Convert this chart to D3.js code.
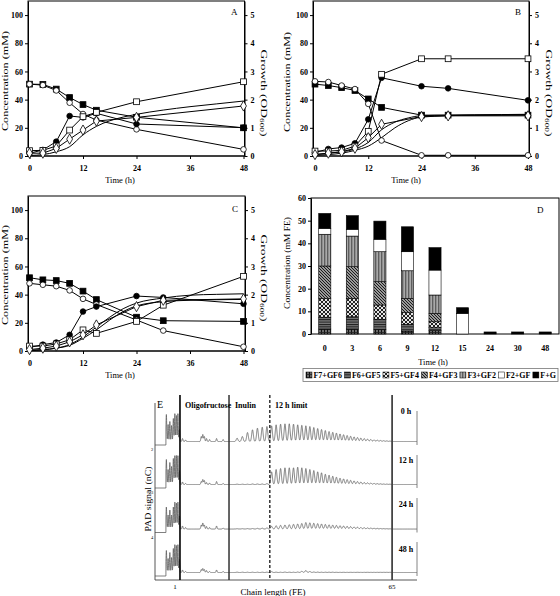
<!DOCTYPE html>
<html><head><meta charset="utf-8">
<script src="https://cdn.jsdelivr.net/npm/d3@7/dist/d3.min.js"></script>
<style>
html,body{margin:0;padding:0;background:#fff;}
svg{display:block;}
text{font-family:"Liberation Serif","Times New Roman",serif;fill:#000;}
</style></head><body>
<svg id="chart" width="560" height="596" viewBox="0 0 560 596"></svg>
<script>
// ================= DATA =================
const timesA = [0,3,6,9,12,15,24,48];
const timesBC = [0,3,6,9,12,15,24,30,48];
const growthTimes = [0,3,6,9,12,15,18,21,24,30,36,42,48];
const leftTicks = [0,20,40,60,80,100];
const rightTicks = [0,1,2,3,4,5];
const timeTicks = [0,12,24,36,48];

// Panel A (mM) and growth (OD600)
const aFilledSquares = [51,50.8,47.5,41.5,36.5,32.5,27.5,20];
const aOpenCircles   = [51,50.3,46.5,37.8,29.8,25.5,18.9,4.7];
const aFilledCircles = [1.9,4.3,10.2,28.4,27.4,30.3,22.7,20.1];
const aOpenSquares   = [3.8,4,7.1,18.4,27.9,31,38.5,52.7];
const aOpenDiamonds  = [2,2,5.4,12,18.4,24.8,27.4,35.5];
const aGrowth        = [0.02,0.05,0.15,0.33,0.75,1.05,1.25,1.38,1.48,1.63,1.75,1.85,1.95];

// Panel B
const bFilledSquares = [51,50,48.5,46.5,40.5,34.5,29,29,29];
const bOpenCircles   = [53,52.5,50,47.5,37,11,0.5,0.5,0.5];
const bFilledCircles = [2.5,5,6,9,26,55.5,49.5,48,39.5];
const bOpenSquares   = [3.5,3.5,4,7,17.5,58,69,69,69];
const bOpenDiamonds  = [1,2,3,5.5,13,22.5,28,28.5,28.5];
const bGrowth1 = [0.05,0.1,0.15,0.25,0.48,0.93,1.2,1.35,1.43,1.45,1.46,1.47,1.48];
const bGrowth2 = [0.025,0.05,0.1,0.2,0.35,0.65,1.0,1.25,1.38,1.43,1.45,1.46,1.47];

// Panel C
const cFilledSquares = [52,50.5,50,48,42.5,36.5,24,21.5,21];
const cOpenCircles   = [48,47,46,43,37,33,22,14.5,3];
const cFilledCircles = [2.5,4.5,6,11.5,28,31.5,39,38,33.5];
const cOpenSquares   = [3.5,3.5,5,8,15,12.5,21,32.5,53];
const cOpenDiamonds  = [1,2,3.5,6.5,11.5,18.5,31.5,36,37];
const cGrowth1 = [0.025,0.05,0.1,0.23,0.5,0.85,1.2,1.5,1.7,1.88,1.98,2.01,2.03];
const cGrowth2 = [0.015,0.04,0.1,0.2,0.45,0.75,1.1,1.4,1.6,1.75,1.8,1.82,1.83];

// Panel D (mM FE), stacked
const dCats = ["0","3","6","9","12","15","24","30","48"];
const dKeys = ["F7+GF6","F6+GF5","F5+GF4","F4+GF3","F3+GF2","F2+GF","F+G"];
const dF7GF6 = [2.2,2.2,2.1,1.3,1.5,0,0,0,0];
const dF6GF5 = [5.2,5.4,4.4,3.0,1.3,0,0,0,0];
const dF5GF4 = [8.3,8.1,6.3,5.1,2.6,0,0,0,0];
const dF4GF3 = [14.3,14.0,10.3,6.3,3.7,0,0,0,0];
const dF3GF2 = [14.0,13.5,13.2,12.2,8.1,0,0,0,0];
const dF2GF  = [2.6,3.0,5.5,8.4,11.0,9.1,0,0,0];
const dFG    = [6.6,6.0,8.0,11.0,9.9,2.5,0.9,0.9,0.9];
const dTicks = [0,10,20,30,40,50,60];

// Panel E (HPAEC-PAD chromatograms): retention positions (min) and peak heights (nC, arbitrary)
const eLabels = ["0 h","12 h","24 h","48 h"];
const eEarlyRT = [2.6,3.0,3.4,3.8,4.2,4.55,4.9,5.25,5.6];
const eEarly0  = [27,17,20,16,23,28,26,28,12];
const eEarly12 = [25,15,22,18,26,29,29,29,14];
const eEarly24 = [22,14,19,14,22,27,26,27,13];
const eEarly48 = [22,14,20,15,24,28,27,28,13];
const eOligoRT = [6.3,7.0,10.6,10.95,11.3,11.8,12.5,14.1,15.6];
const eOligo0  = [3,1.5,5,7,5,3,2,3,2];
const eOligo12 = [2.5,1,3,5,4,2,1.5,3,1];
const eOligo24 = [3,1.5,4,6,4,2.5,1.5,3,1];
const eOligo48 = [2.5,1,3,4,3,2,1,2.5,1];
const eInulinDP = d3.range(20,60);
const eInulin0  = [3.3,5,9,11.7,13.3,14.3,15,15.7,16.7,17.3,17.7,17.7,17.3,16.7,16.2,15.7,15,14,13,12,11,10,9.2,8.4,7.6,6.8,6,5.3,4.6,4,3.4,2.9,2.4,2,1.6,1.3,1,0.8,0.6,0.4];
const eInulin12 = [0.3,0.3,0.3,0.5,0.5,0.5,0.8,12.7,15,16,16.7,16.7,16.7,17.3,16.7,16,15,14,12.7,11.7,10.3,9.3,8.3,7.3,6.3,5.6,4.9,4.2,3.6,3,2.5,2,1.7,1.4,1.1,0.9,0.7,0.5,0.4,0.3];
const eInulin24 = [0.3,0.3,0.4,0.5,0.6,0.8,1.0,2.7,3.3,3.7,4,4.3,4.7,5,5.5,6.5,6.2,5.8,5.4,5,4.6,4.2,3.9,3.6,3.3,3,2.7,2.4,2.1,1.8,1.5,1.3,1.1,0.9,0.7,0.6,0.5,0.4,0.3,0.2];
const eInulin48 = [0.3,0.3,0.3,0.3,0.3,0.3,0.3,0.8,0.3,0.3,0.4,0.3,0.3,0.5,1.2,2,1,0.5,0.4,0.3,0.3,0.3,0.3,0.2,0.2,0.2,0.2,0.2,0.2,0.2,0.2,0.2,0.2,0.2,0.2,0.2,0.2,0.2,0.2,0.2];
const eLinesRT = [5.72,16.95,26.3,54.3];
const eChainTicks = [{label:"1", rt:4.6},{label:"65", rt:54.3}];

// ================= DRAWING =================
const svg = d3.select("#chart");
const defs = svg.append("defs");

function scaledText(parent, x, y, angle, target, build, size) {
  const g = parent.append("g").attr("transform", `translate(${x},${y}) rotate(${angle})`);
  const t = g.append("text").attr("text-anchor","middle").attr("dominant-baseline","central")
    .style("font-size", size + "px");
  build(t);
  const len = t.node().getComputedTextLength();
  t.attr("transform", `scale(${target/len},1)`);
  return t;
}

function styleAxis(sel, bold) {
  sel.select(".domain").attr("stroke","#000").attr("stroke-width",1);
  sel.selectAll(".tick line").attr("stroke","#000").attr("stroke-width",1);
  sel.selectAll(".tick text").attr("fill","#000")
    .style("font-family",'"Liberation Serif","Times New Roman",serif')
    .style("font-size","8px").style("font-weight", bold ? "bold" : "normal");
}

function marker(g, type, cx, cy) {
  if (type === "fsq" || type === "osq") {
    g.append("rect").attr("x",cx-2.9).attr("y",cy-2.9).attr("width",5.8).attr("height",5.8)
      .attr("fill", type==="fsq" ? "#000" : "#fff").attr("stroke","#000").attr("stroke-width",0.8);
  } else if (type === "fci" || type === "oci") {
    g.append("circle").attr("cx",cx).attr("cy",cy).attr("r",2.8)
      .attr("fill", type==="fci" ? "#000" : "#fff").attr("stroke","#000").attr("stroke-width",0.8);
  } else if (type === "odi") {
    g.append("path").attr("d", d3.symbol().type(d3.symbolDiamond).size(30)())
      .attr("transform",`translate(${cx},${cy})`)
      .attr("fill","#fff").attr("stroke","#000").attr("stroke-width",0.8);
  }
}

function drawLinePanel(p) {
  const g = svg.append("g");
  const x = d3.scaleLinear().domain([0,48]).range([p.x0, p.x1]);
  const y = d3.scaleLinear().domain([0,110]).range([p.bottom, p.top]);
  const y2 = d3.scaleLinear().domain([0,5.5]).range([p.bottom, p.top]);

  g.append("rect").attr("x",p.boxL).attr("y",p.top).attr("width",p.boxR-p.boxL)
    .attr("height",p.bottom-p.top).attr("fill","none").attr("stroke","#000").attr("stroke-width",1);

  const yl = g.append("g").attr("transform",`translate(${p.boxL},0)`)
    .call(d3.axisLeft(y).tickValues(leftTicks).tickFormat(d3.format("d")).tickSize(3).tickPadding(2).tickSizeOuter(0));
  styleAxis(yl, true);
  const yr = g.append("g").attr("transform",`translate(${p.boxR},0)`)
    .call(d3.axisRight(y2).tickValues(rightTicks).tickFormat(d3.format("d")).tickSize(3).tickPadding(3).tickSizeOuter(0));
  styleAxis(yr, true);
  const xb = g.append("g").attr("transform",`translate(0,${p.bottom})`)
    .call(d3.axisBottom(x).tickValues(timeTicks).tickFormat(d3.format("d")).tickSize(3).tickPadding(6).tickSizeOuter(0));
  xb.select(".domain").attr("d", `M${p.boxL},0H${p.boxR}`);
  styleAxis(xb, true);

  // growth curves (right axis)
  const gl = d3.line().x((d,i)=>x(growthTimes[i])).y(d=>y2(d)).curve(d3.curveMonotoneX);
  p.growth.forEach(arr => {
    g.append("path").attr("d", gl(arr)).attr("fill","none").attr("stroke","#000").attr("stroke-width",1);
  });
  // series lines
  p.series.forEach(s => {
    const l = d3.line().x((d,i)=>x(p.times[i])).y(d=>y(d));
    g.append("path").attr("d", l(s.v)).attr("fill","none").attr("stroke","#000").attr("stroke-width",1);
  });
  p.series.forEach(s => {
    s.v.forEach((v,i) => marker(g, s.m, x(p.times[i]), y(v)));
  });

  g.append("text").attr("x",p.letter[0]).attr("y",p.letter[1]).style("font-size","9px").text(p.letterText);
  g.append("text").attr("x",p.timeX).attr("y",p.timeY).attr("text-anchor","middle")
    .style("font-size","8.5px").text("Time (h)");

  scaledText(g, p.ltX, p.ltY, -90, 100, t => t.text("Concentration (mM)"), 8);
  scaledText(g, p.rtX, p.rtY, 90, 87, t => {
    t.append("tspan").text("Growth (OD");
    t.append("tspan").attr("dy",2).style("font-size","5.5px").text("600");
    t.append("tspan").attr("dy",-2).text(")");
  }, 8);
}

drawLinePanel({
  x0:29.5, x1:243.5, boxL:28, boxR:244.5, top:1, bottom:156, times:timesA,
  series:[{v:aFilledSquares,m:"fsq"},{v:aOpenCircles,m:"oci"},{v:aFilledCircles,m:"fci"},
          {v:aOpenSquares,m:"osq"},{v:aOpenDiamonds,m:"odi"}],
  growth:[aGrowth], letter:[231,15], letterText:"A", timeX:120, timeY:183,
  ltX:5, ltY:81, rtX:264, rtY:93
});
drawLinePanel({
  x0:315, x1:528, boxL:313, boxR:529, top:1, bottom:156, times:timesBC,
  series:[{v:bFilledSquares,m:"fsq"},{v:bOpenCircles,m:"oci"},{v:bFilledCircles,m:"fci"},
          {v:bOpenSquares,m:"osq"},{v:bOpenDiamonds,m:"odi"}],
  growth:[bGrowth1,bGrowth2], letter:[515,15], letterText:"B", timeX:406, timeY:183,
  ltX:287.5, ltY:82, rtX:549, rtY:93
});
drawLinePanel({
  x0:29.5, x1:243.5, boxL:28, boxR:245, top:196, bottom:351, times:timesBC,
  series:[{v:cFilledSquares,m:"fsq"},{v:cOpenCircles,m:"oci"},{v:cFilledCircles,m:"fci"},
          {v:cOpenSquares,m:"osq"},{v:cOpenDiamonds,m:"odi"}],
  growth:[cGrowth1,cGrowth2], letter:[232,212], letterText:"C", timeX:120, timeY:378,
  ltX:5, ltY:275, rtX:264, rtY:278
});

// ---------- Panel D ----------
function pat(id, w, h, draw) {
  const p = defs.append("pattern").attr("id",id).attr("patternUnits","userSpaceOnUse")
    .attr("width",w).attr("height",h);
  draw(p);
}
pat("pF7",3,3,p=>{
  p.append("rect").attr("width",3).attr("height",3).attr("fill","#6a6a6a");
  p.append("rect").attr("width",1).attr("height",3).attr("fill","#111");
  p.append("rect").attr("y",2).attr("width",3).attr("height",0.8).attr("fill","#222");
});
pat("pF6",3,2.4,p=>{
  p.append("rect").attr("width",3).attr("height",2.4).attr("fill","#7a7a7a");
  p.append("rect").attr("width",3).attr("height",1).attr("fill","#1a1a1a");
});
pat("pF5",4,4,p=>{
  p.append("rect").attr("width",4).attr("height",4).attr("fill","#e6e6e6");
  p.append("path").attr("d","M0,0L4,4M4,0L0,4M-1,1L1,-1M3,5L5,3M-1,3L1,5M3,-1L5,1")
    .attr("stroke","#222").attr("stroke-width",1);
});
pat("pF4",3,3,p=>{
  p.append("rect").attr("width",3).attr("height",3).attr("fill","#cfcfcf");
  p.append("path").attr("d","M0,0L3,3M-1,2L1,4M2,-1L4,1").attr("stroke","#111").attr("stroke-width",1.1);
});
pat("pF3",3,3,p=>{
  p.append("rect").attr("width",3).attr("height",3).attr("fill","#8e8e8e");
  p.append("rect").attr("width",1).attr("height",3).attr("fill","#5e5e5e");
  p.append("rect").attr("x",2).attr("width",0.7).attr("height",3).attr("fill","#b5b5b5");
});
const dFills = {"F7+GF6":"url(#pF7)","F6+GF5":"url(#pF6)","F5+GF4":"url(#pF5)","F4+GF3":"url(#pF4)",
                "F3+GF2":"url(#pF3)","F2+GF":"#fff","F+G":"#000"};

(function drawD(){
  const g = svg.append("g");
  const L=311, R=559, T=198, B=334;
  const x = d3.scaleBand().domain(dCats).range([L,R]).paddingInner(0.56).paddingOuter(0.28);
  const y = d3.scaleLinear().domain([0,60]).range([B,T]);
  const cols = [dF7GF6,dF6GF5,dF5GF4,dF4GF3,dF3GF2,dF2GF,dFG];
  const table = dCats.map((c,i)=>{ const o={cat:c}; dKeys.forEach((k,j)=>o[k]=cols[j][i]); return o; });
  const stacked = d3.stack().keys(dKeys)(table);

  g.append("rect").attr("x",L).attr("y",T).attr("width",R-L).attr("height",B-T)
    .attr("fill","none").attr("stroke","#000").attr("stroke-width",1);

  stacked.forEach(layer => {
    g.selectAll(null).data(layer.filter(d=>d[1]-d[0]>0)).enter().append("rect")
      .attr("x", d=>x(d.data.cat)).attr("width", x.bandwidth())
      .attr("y", d=>y(d[1])).attr("height", d=>y(d[0])-y(d[1]))
      .attr("fill", dFills[layer.key]).attr("stroke","#000").attr("stroke-width",0.6);
  });

  const yl = g.append("g").attr("transform",`translate(${L},0)`)
    .call(d3.axisLeft(y).tickValues(dTicks).tickSize(3).tickPadding(2).tickSizeOuter(0));
  styleAxis(yl, true);
  const xb = g.append("g").attr("transform",`translate(0,${B})`)
    .call(d3.axisBottom(x).tickSize(0).tickPadding(11).tickSizeOuter(0));
  xb.select(".domain").remove();
  styleAxis(xb, true);

  g.append("text").attr("x",537).attr("y",213).style("font-size","9px").text("D");
  g.append("text").attr("x",433).attr("y",365).attr("text-anchor","middle").style("font-size","8.5px").text("Time (h)");
  scaledText(g, 287.5, 263, -90, 92, t=>t.text("Concentration (mM FE)"), 8);

  // legend
  const lg = g.append("g");
  lg.append("rect").attr("x",303).attr("y",368.5).attr("width",255).attr("height",13)
    .attr("fill","#fff").attr("stroke","#777").attr("stroke-width",0.8);
  const x0 = 306, x1 = 556, sw = 6, gapSw = 1.5, gapItem = 2.5;
  const texts = dKeys.map(k => lg.append("text").attr("y",378).style("font-size","8px")
    .style("font-weight","bold").text(k));
  const widths = texts.map(t => t.node().getComputedTextLength());
  const natural = d3.sum(widths) + dKeys.length*(sw+gapSw) + (dKeys.length-1)*gapItem;
  const k = Math.min(1, (x1-x0 - dKeys.length*(sw+gapSw) - (dKeys.length-1)*gapItem) / d3.sum(widths));
  let cx = x0;
  dKeys.forEach((key,i) => {
    lg.append("rect").attr("x",cx).attr("y",372).attr("width",sw).attr("height",sw)
      .attr("fill",dFills[key]).attr("stroke","#000").attr("stroke-width",0.5);
    const w = widths[i]*k;
    texts[i].attr("x", cx+sw+gapSw).attr("textLength", w).attr("lengthAdjust","spacingAndGlyphs");
    cx += sw + gapSw + w + gapItem;
  });
})();

// ---------- Panel E ----------
(function drawE(){
  const g = svg.append("g");
  const rt = d3.scaleLinear().domain([0,60]).range([155,417]);
  const dpToRt = d3.scaleSqrt().domain([20,59]).range([18.8,53.8]);
  const tops = [411,455,498,542], bases = [441.5,484.5,529,572.5], bots = [445,488,532.5,576];
  const early = [eEarly0,eEarly12,eEarly24,eEarly48];
  const oligo = [eOligo0,eOligo12,eOligo24,eOligo48];
  const inul = [eInulin0,eInulin12,eInulin24,eInulin48];
  const labY = [414,463,507,552];

  function sig(t, i) {
    let s = 0;
    eEarlyRT.forEach((p,j)=>{ s += early[i][j]*Math.exp(-((t-p)**2)/(2*0.085*0.085)); });
    eOligoRT.forEach((p,j)=>{ s += oligo[i][j]*Math.exp(-((t-p)**2)/(2*0.11*0.11)); });
    eInulinDP.forEach((k,j)=>{ const p = dpToRt(k); s += inul[i][j]*Math.exp(-((t-p)**2)/(2*0.19*0.19)); });
    return s;
  }
  const ts = d3.range(2.5, 60.001, 0.02);

  eLabels.forEach((lab,i)=>{
    const y = d3.scaleLinear().domain([0,30]).range([bases[i], bases[i]-30]);
    const pts = [[0,-(bots[i]-bases[i])],[2.5,-(bots[i]-bases[i])]].concat(ts.map(t=>[t,sig(t,i)]));
    g.append("path").attr("d", d3.line().x(d=>rt(d[0])).y(d=>y(d[1]))(pts))
      .attr("fill","none").attr("stroke","#555").attr("stroke-width",0.75);
    g.append("line").attr("x1",rt(60)).attr("x2",rt(60)).attr("y1",tops[i]).attr("y2",bots[i])
      .attr("stroke","#666").attr("stroke-width",0.8);
    g.append("text").attr("x",406).attr("y",labY[i]).attr("text-anchor","middle")
      .style("font-size","8px").style("font-weight","bold").text(lab);
  });
  ["2","3","4"].forEach((s,i)=>{
    g.append("text").attr("x",151).attr("y",bots[i]+6).style("font-size","4.5px").attr("fill","#444").text(s);
  });

  // frame
  g.append("line").attr("x1",155).attr("x2",155).attr("y1",403).attr("y2",580).attr("stroke","#444").attr("stroke-width",0.9);
  g.append("line").attr("x1",155).attr("x2",417).attr("y1",580).attr("y2",580).attr("stroke","#444").attr("stroke-width",0.9);

  // region lines
  const lstyle = [{c:"#000",w:1.6,d:null},{c:"#333",w:1.5,d:null},{c:"#000",w:1.2,d:"3,2"},{c:"#444",w:1.8,d:null}];
  eLinesRT.forEach((r,i)=>{
    g.append("line").attr("x1",rt(r)).attr("x2",rt(r)).attr("y1",395).attr("y2",580)
      .attr("stroke",lstyle[i].c).attr("stroke-width",lstyle[i].w).attr("stroke-dasharray",lstyle[i].d);
  });

  eChainTicks.forEach(t=>{
    g.append("text").attr("x",rt(t.rt)).attr("y",589).attr("text-anchor","middle").style("font-size","7px").text(t.label);
  });

  g.append("text").attr("x",157).attr("y",408).style("font-size","10px").text("E");
  g.append("text").attr("x",185).attr("y",408).style("font-size","8px").style("font-weight","bold").text("Oligofructose");
  g.append("text").attr("x",235).attr("y",408).style("font-size","8px").style("font-weight","bold").text("Inulin");
  g.append("text").attr("x",275).attr("y",408).style("font-size","8px").style("font-weight","bold").text("12 h limit");
  g.append("text").attr("x",273).attr("y",595).attr("text-anchor","middle").style("font-size","9px").text("Chain length (FE)");
  scaledText(g, 148.5, 499, -90, 65, t=>t.text("PAD signal (nC)"), 8.5);
})();
</script>
</body></html>
